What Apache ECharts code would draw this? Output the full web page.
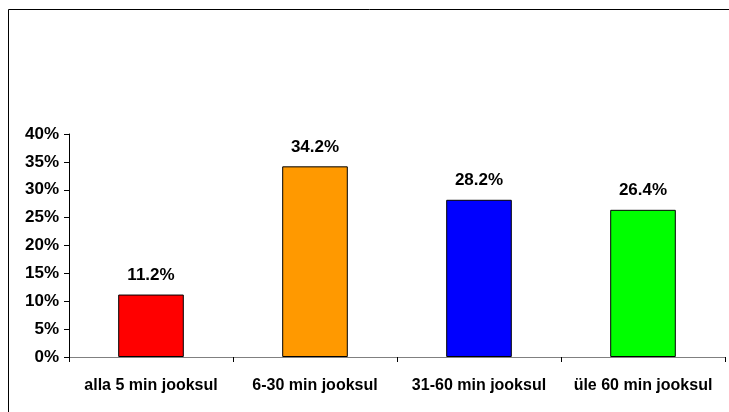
<!DOCTYPE html>
<html>
<head>
<meta charset="utf-8">
<script src="https://cdn.jsdelivr.net/npm/echarts@6/dist/echarts.min.js"></script>
<style>
  html, body { margin: 0; padding: 0; background: #fff; }
  #chart { width: 729px; height: 412px; }
</style>
</head>
<body>
<div id="chart"></div>
<script>
// andmed
var categories = ['alla 5 min jooksul', '6-30 min jooksul', '31-60 min jooksul', 'üle 60 min jooksul']
var values = [11.2, 34.2, 28.2, 26.4]
var barColors = ['#ff0000', '#ff9900', '#0000ff', '#00ff00']

var myChart = echarts.init(document.getElementById('chart'))

var font = 'Liberation Sans, Arial, sans-serif'

myChart.setOption({
  animation: false,
  backgroundColor: '#fff',
  graphic: [
    // raam vasakul ja üleval
    {
      type: 'rect',
      shape: { x: 8.5, y: 9.5, width: 900, height: 600 },
      style: { fill: 'none', stroke: '#000', lineWidth: 1 },
      silent: true
    }
  ],
  grid: { left: 69, right: 4, top: 134, bottom: 55 },
  xAxis: {
    type: 'category',
    data: categories,
    axisLine: { lineStyle: { color: '#808080', width: 1 } },
    axisTick: { show: true, interval: 0, length: 5, lineStyle: { color: '#000' } },
    axisLabel: {
      interval: 0,
      hideOverlap: false,
      color: '#000',
      fontFamily: font,
      fontWeight: 'bold',
      fontSize: 16,
      margin: 21
    }
  },
  yAxis: {
    type: 'value',
    min: 0,
    max: 40,
    interval: 5,
    splitLine: { show: false },
    axisLine: { show: true, lineStyle: { color: '#000' } },
    axisTick: { show: true, length: 5, lineStyle: { color: '#000' } },
    axisLabel: {
      color: '#000',
      fontFamily: font,
      fontWeight: 'bold',
      fontSize: 17,
      margin: 10,
      formatter: '{value}%'
    }
  },
  series: [{
    type: 'bar',
    barWidth: '40%',
    data: values.map(function (v, i) {
      return { value: v, itemStyle: { color: barColors[i] } }
    }),
    itemStyle: { borderColor: '#000', borderWidth: 1 },
    label: {
      show: true,
      position: 'top',
      distance: 11,
      color: '#000',
      fontFamily: font,
      fontWeight: 'bold',
      fontSize: 17,
      formatter: function (p) { return p.value.toFixed(1) + '%' }
    }
  }]
})
</script>
</body>
</html>
